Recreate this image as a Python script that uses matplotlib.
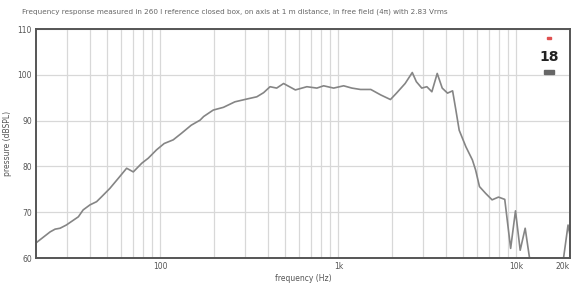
import matplotlib
matplotlib.use("Agg")
import matplotlib.pyplot as plt
from matplotlib.ticker import FixedLocator, NullFormatter
from matplotlib.patches import Rectangle


TITLE = ("Frequency response measured in 260 l reference closed box, on axis at 1 m distance, "
         "in free field (4\u03c0) with 2.83 Vrms")

# values
freq_hz = [20, 24, 25.6, 27.3, 29.6, 34.6, 36.8, 40.2, 43.8, 46.8, 52, 58, 64.6, 70.4, 78.6,
           85.5, 95, 105, 118, 131, 149, 167, 175, 198, 226, 262, 305, 348, 380, 413, 450,
           492, 573, 665, 757, 826, 940, 1070, 1190, 1330, 1520, 1730, 1960, 2120, 2370,
           2600, 2740, 2940, 3140, 3350, 3590, 3830, 4100, 4380, 4570, 4770, 5200, 5660,
           5900, 6200, 6720, 7300, 7930, 8600, 9280, 9880, 10500, 11200, 11900, 13000,
           16000, 18400, 19500, 20000]
spl_db = [63.3, 65.7, 66.3, 66.5, 67.2, 69.0, 70.5, 71.6, 72.3, 73.4, 75.2, 77.4, 79.6, 78.8,
          80.7, 81.8, 83.6, 85.0, 85.8, 87.2, 89.0, 90.1, 90.9, 92.3, 92.9, 94.1, 94.7, 95.2,
          96.1, 97.4, 97.1, 98.1, 96.7, 97.4, 97.1, 97.6, 97.1, 97.6, 97.1, 96.8, 96.8, 95.6,
          94.6, 96.0, 98.1, 100.5, 98.5, 97.1, 97.4, 96.3, 100.3, 97.1, 96.0, 96.5, 92.3,
          87.9, 84.3, 81.4, 79.2, 75.6, 74.1, 72.7, 73.3, 72.8, 62.1, 70.3, 61.7, 66.5, 59.5,
          54.0, 54.0, 60.0, 67.2, 65.0]

y_ticks = [60, 70, 80, 90, 100, 110]
x_ticks = [100, 1000, 10000, 20000]
x_tick_labels = ["100", "1k", "10k", "20k"]

GRID = "#d8d8d8"
TEXT = "#555555"

fig = plt.figure(figsize=(5.75, 2.83), dpi=100)
ax = fig.add_axes([0.0626, 0.0883, 0.9287, 0.8092])

ax.set_xscale("log")
ax.set_xlim(20, 20000)
ax.set_ylim(60, 110)

minor = [m * d for d in (10, 100, 1000, 10000) for m in range(2, 10) if 20 < m * d < 20000]
ax.xaxis.set_major_locator(FixedLocator(x_ticks))
ax.xaxis.set_minor_locator(FixedLocator(minor))
ax.xaxis.set_minor_formatter(NullFormatter())
ax.set_xticklabels(x_tick_labels)
ax.set_yticks(y_ticks)
# last label would run off the figure edge
ax.get_xticklabels()[-1].set_horizontalalignment("right")

ax.grid(which="both", axis="x", color=GRID, linewidth=0.9)
ax.grid(which="major", axis="y", color=GRID, linewidth=0.9)
ax.set_axisbelow(True)

ax.plot(freq_hz, spl_db, color="#858585", linewidth=1.2)

for s in ax.spines.values():
    s.set_color("#555555")
    s.set_linewidth(1.4)

ax.tick_params(which="both", length=0, labelsize=5.5, labelcolor=TEXT, pad=3)
ax.set_xlabel("frequency (Hz)", fontsize=5.5, color=TEXT, labelpad=2)
ax.set_ylabel("pressure (dBSPL)", fontsize=5.5, color=TEXT, labelpad=4)

fig.text(0.038, 0.957, TITLE, fontsize=5.2, color="#666666", ha="left", va="center")

# small "18" logo top right
fig.text(0.955, 0.80, "18", fontsize=10, fontweight="bold", color="#222222",
         ha="center", va="center", family=["Liberation Sans Narrow", "DejaVu Sans"])
fig.patches.append(Rectangle((0.951, 0.862), 0.008, 0.006, transform=fig.transFigure,
                             color="#e05050", zorder=5))
fig.patches.append(Rectangle((0.946, 0.74), 0.018, 0.014, transform=fig.transFigure,
                             color="#666666", zorder=5))

fig.savefig("out.png", dpi=100)
